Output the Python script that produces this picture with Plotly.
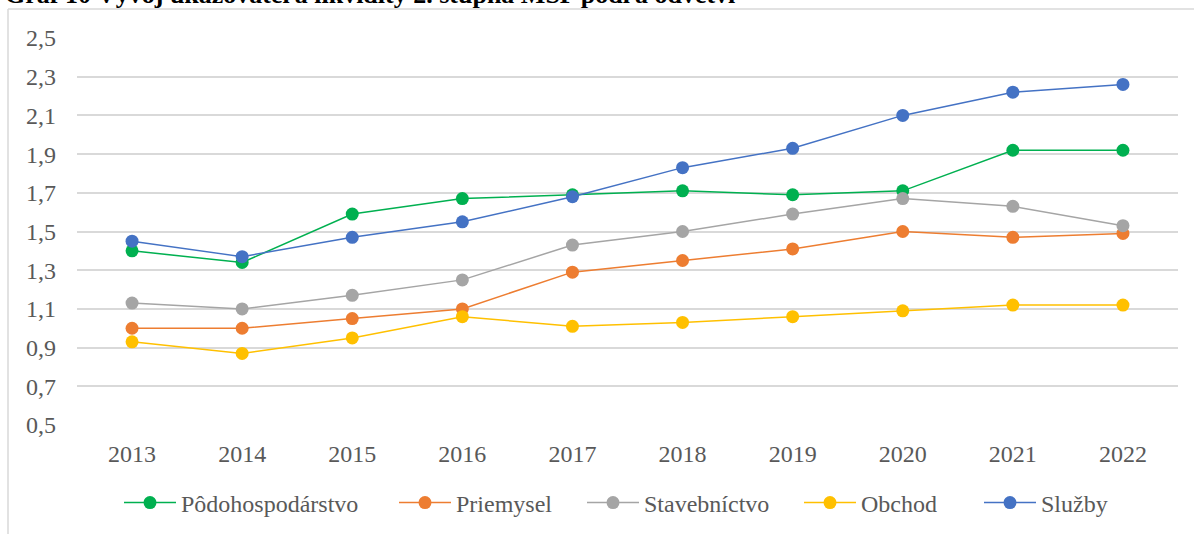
import plotly.graph_objects as go

years = ["2013", "2014", "2015", "2016", "2017", "2018", "2019", "2020", "2021", "2022"]
podohospodarstvo = [1.40, 1.34, 1.59, 1.67, 1.69, 1.71, 1.69, 1.71, 1.92, 1.92]
priemysel = [1.00, 1.00, 1.05, 1.10, 1.29, 1.35, 1.41, 1.50, 1.47, 1.49]
stavebnictvo = [1.13, 1.10, 1.17, 1.25, 1.43, 1.50, 1.59, 1.67, 1.63, 1.53]
obchod = [0.93, 0.87, 0.95, 1.06, 1.01, 1.03, 1.06, 1.09, 1.12, 1.12]
sluzby = [1.45, 1.37, 1.47, 1.55, 1.68, 1.83, 1.93, 2.10, 2.22, 2.26]
series_names = ["Pôdohospodárstvo", "Priemysel", "Stavebníctvo", "Obchod", "Služby"]
title_text = "Graf 10 Vývoj ukazovateľa likvidity 2. stupňa MSP podľa odvetví"

series_values = [podohospodarstvo, priemysel, stavebnictvo, obchod, sluzby]
colors = ["#00B050", "#ED7D31", "#A5A5A5", "#FFC000", "#4472C4"]

W, H = 1194, 534
L, R, T, B = 77, 16, 38, 109
pw = W - L - R
ph = H - T - B

def px_x(x):
    return (x - L) / pw

def px_y(y):
    return 1 - (y - T) / ph

def cy(y):
    return 1 - y / H

FONT = "Liberation Serif"
legend_starts = [125, 400, 588, 805, 985]

fig = go.Figure()
for i, (name, vals, col) in enumerate(zip(series_names, series_values, colors)):
    lg = "legend" if i == 0 else f"legend{i+1}"
    fig.add_trace(go.Scatter(
        x=years, y=vals, name=name, mode="lines+markers",
        line=dict(color=col, width=1.5),
        marker=dict(color=col, size=13),
        legend=lg,
    ))

legend_common = dict(
    orientation="h", yanchor="middle", xanchor="left", yref="container",
    font=dict(family=FONT, size=24, color="#595959"),
    bgcolor="rgba(0,0,0,0)", itemwidth=52,
)
layout_legends = {}
for i, xs in enumerate(legend_starts):
    key = "legend" if i == 0 else f"legend{i+1}"
    layout_legends[key] = dict(legend_common, x=px_x(xs - 6), y=cy(503))

fig.update_layout(
    width=W, height=H,
    font=dict(family=FONT, color="#595959"),
    margin=dict(l=L, r=R, t=T, b=B, autoexpand=False),
    paper_bgcolor="white", plot_bgcolor="white",
    separators=", ",
    showlegend=True,
    **layout_legends,
    xaxis=dict(
        type="category", range=[-0.5, 9.5], showgrid=False, zeroline=False,
        showline=False, ticks="", ticklabelstandoff=12, automargin=False,
        tickfont=dict(family=FONT, size=24, color="#595959"),
    ),
    yaxis=dict(
        range=[0.5, 2.5], tick0=0.5, dtick=0.2, tickformat=".1f",
        showgrid=True, gridcolor="#D9D9D9", gridwidth=1.5, zeroline=False,
        showline=False, ticks="", ticklabelstandoff=20, automargin=False,
        tickfont=dict(family=FONT, size=24, color="#595959"),
    ),
    annotations=[dict(
        text="<b>" + title_text + "</b>", xref="paper", yref="paper",
        x=px_x(4), y=px_y(10), xanchor="left", yanchor="bottom",
        showarrow=False, font=dict(family=FONT, size=26, color="black"),
        borderpad=0,
    )],
    shapes=[
        dict(type="line", xref="paper", yref="paper", x0=px_x(8), x1=px_x(1200),
             y0=px_y(9), y1=px_y(9), line=dict(color="#D9D9D9", width=1.5)),
        dict(type="line", xref="paper", yref="paper", x0=px_x(8), x1=px_x(8),
             y0=px_y(9), y1=px_y(540), line=dict(color="#D9D9D9", width=1.5)),
    ],
)

fig.write_html("out.html", config={"displayModeBar": False},
               post_script="document.body.style.margin='0';")
